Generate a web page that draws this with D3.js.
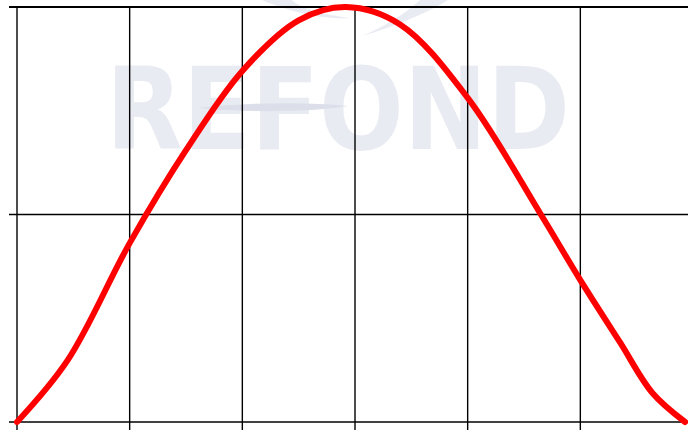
<!DOCTYPE html>
<html>
<head>
<meta charset="utf-8">
<script src="https://cdn.jsdelivr.net/npm/d3@7"></script>
<style>
  body { margin: 0; background: #fff; }
  svg { display: block; }
</style>
</head>
<body>
<script>
const width = 688;
const height = 430;
const margin = { top: 7, right: -5, bottom: 8, left: 17 };

// curve, x in grid steps, y as share of full height
const xValues = [0, 0.45, 1, 1.5, 2, 2.5, 2.92, 3.4, 4, 4.65, 5, 5.35, 5.64, 5.93];
const yValues = [0, 0.149, 0.431, 0.655, 0.846, 0.968, 1, 0.958, 0.781, 0.5, 0.342, 0.193, 0.07, 0];
const xTicks = [0, 1, 2, 3, 4, 5, 6];
const yTicks = [0, 0.5, 1];

const svg = d3.select("body").append("svg")
  .attr("width", width).attr("height", height);

const x = d3.scaleLinear().domain([0, 6])
  .range([margin.left, width - margin.right]);
const y = d3.scaleLinear().domain([0, 1])
  .range([height - margin.bottom, margin.top]);

// watermark
const wm = svg.append("g").attr("fill", "#e9ebf2");
wm.append("path")
  .attr("d", "M262,0 C285,10 320,20 350,18 C320,14 300,8 292,0 Z");
wm.append("path")
  .attr("d", "M362,36 C395,26 425,14 448,0 L420,0 C405,14 385,26 362,36 Z");
wm.append("text")
  .attr("x", 106).attr("y", 149)
  .attr("textLength", 464)
  .attr("lengthAdjust", "spacingAndGlyphs")
  .style("font-family", "DejaVu Sans, sans-serif")
  .style("font-weight", "bold")
  .style("font-size", "114px")
  .text("REFOND");
svg.append("path")
  .attr("fill", "#dcdfea")
  .attr("d", "M198,108 C250,102 310,102 348,106 C310,112 250,113 198,108 Z");

// grid lines with ticks poking out
svg.append("g")
  .selectAll("line")
  .data(xTicks)
  .join("line")
  .attr("x1", d => x(d)).attr("x2", d => x(d))
  .attr("y1", y(1)).attr("y2", height)
  .attr("stroke", "#000").attr("stroke-width", 1.4);

svg.append("g")
  .selectAll("line")
  .data(yTicks)
  .join("line")
  .attr("x1", margin.left - 8).attr("x2", width)
  .attr("y1", d => y(d)).attr("y2", d => y(d))
  .attr("stroke", "#000").attr("stroke-width", d => d === 1 ? 2 : 1.4);

const line = d3.line()
  .x((d, i) => x(xValues[i]))
  .y(d => y(d))
  .curve(d3.curveCatmullRom.alpha(0.5));

svg.append("path")
  .datum(yValues)
  .attr("fill", "none")
  .attr("stroke", "#ff0000")
  .attr("stroke-width", 6)
  .attr("stroke-linecap", "round")
  .attr("d", line);
</script>
</body>
</html>
